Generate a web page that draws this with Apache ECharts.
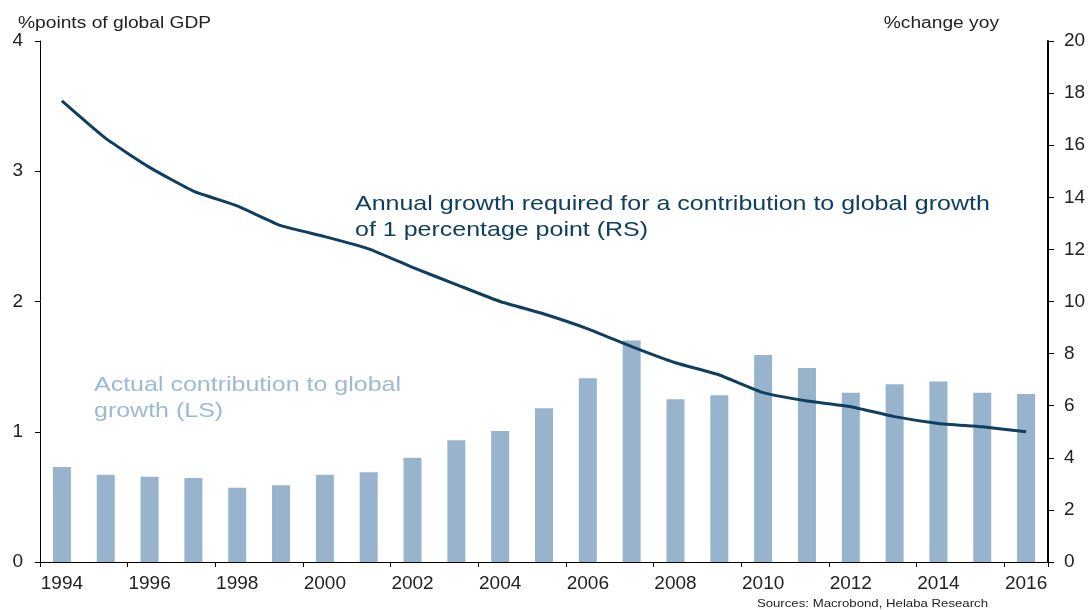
<!DOCTYPE html>
<html>
<head>
<meta charset="utf-8">
<script src="https://cdn.jsdelivr.net/npm/echarts@6/dist/echarts.min.js"></script>
<style>
html,body{margin:0;padding:0;background:#fff;}
#chart{width:1092px;height:610px;}
</style>
</head>
<body>
<div id="chart"></div>
<script>
var years = ['1994','1995','1996','1997','1998','1999','2000','2001','2002','2003','2004','2005','2006','2007','2008','2009','2010','2011','2012','2013','2014','2015','2016'];
var contribution = [0.73,0.67,0.655,0.645,0.57,0.59,0.67,0.69,0.80,0.935,1.005,1.18,1.41,1.70,1.25,1.28,1.59,1.49,1.30,1.365,1.385,1.30,1.29];
var requiredGrowth = [17.7,16.26,15.15,14.24,13.67,12.91,12.49,12.02,11.31,10.65,10.0,9.52,8.95,8.27,7.65,7.18,6.5,6.18,5.96,5.58,5.32,5.19,5.0];
var leftTicks = {min:0, max:4, interval:1};
var rightTicks = {min:0, max:20, interval:2};

var font = '"Liberation Sans", Arial, sans-serif';
var navy = '#0f3f60';
var barColor = '#97b4cc';
var chart = echarts.init(document.getElementById('chart'));
chart.setOption({
  animation: false,
  grid: {left: 40, right: 44, top: 41, bottom: 48, containLabel: false},
  xAxis: [{
    type: 'category',
    data: years,
    boundaryGap: true,
    axisLine: {lineStyle: {color: '#000', width: 1}},
    axisTick: {show: true, interval: 1, length: 5, inside: false, lineStyle: {color: '#000'}},
    axisLabel: {interval: 1, margin: 12, fontSize: 19, color: '#222', fontFamily: font},
    splitLine: {show: false}
  }, {
    type: 'category',
    data: years,
    position: 'top',
    axisLine: {show: true, lineStyle: {color: '#000', width: 1}},
    axisTick: {show: false},
    axisLabel: {show: false},
    splitLine: {show: false}
  }],
  yAxis: [{
    type: 'value',
    min: leftTicks.min, max: leftTicks.max, interval: leftTicks.interval,
    position: 'left',
    axisLine: {show: true, lineStyle: {color: '#000', width: 1}},
    axisTick: {show: true, length: 5, lineStyle: {color: '#000'}},
    axisLabel: {margin: 17, fontSize: 19, color: '#222', fontFamily: font},
    splitLine: {show: false}
  }, {
    type: 'value',
    min: rightTicks.min, max: rightTicks.max, interval: rightTicks.interval,
    position: 'right',
    axisLine: {show: true, lineStyle: {color: '#000', width: 2}},
    axisTick: {show: true, length: 6, lineStyle: {color: '#000'}},
    axisLabel: {margin: 16, fontSize: 19, color: '#222', fontFamily: font},
    splitLine: {show: false}
  }],
  series: [{
    type: 'bar',
    data: contribution,
    yAxisIndex: 0,
    barWidth: 18,
    itemStyle: {color: barColor}
  }, {
    type: 'line',
    data: requiredGrowth,
    yAxisIndex: 1,
    symbol: 'none',
    smooth: 0.15,
    lineStyle: {color: navy, width: 3}
  }],
  graphic: [
    {type: 'text', x: 18, y: 24, scaleX: 1.2, style: {text: '%points of global GDP', font: '16px ' + font, fill: '#222', textVerticalAlign: 'middle', verticalAlign: 'middle'}},
    {type: 'text', x: 999, y: 24, scaleX: 1.2, style: {text: '%change yoy', font: '16px ' + font, fill: '#222', textAlign: 'right', align: 'right', textVerticalAlign: 'middle', verticalAlign: 'middle'}},
    {type: 'text', x: 355, y: 191, scaleX: 1.19, style: {text: 'Annual growth required for a contribution to global growth\nof 1 percentage point (RS)', font: '21px ' + font, fill: navy, lineHeight: 26}},
    {type: 'text', x: 94, y: 372, scaleX: 1.19, style: {text: 'Actual contribution to global\ngrowth (LS)', font: '21px ' + font, fill: '#9dbad2', lineHeight: 26}},
    {type: 'text', x: 988, y: 604, scaleX: 1.2, style: {text: 'Sources: Macrobond, Helaba Research', font: '11px ' + font, fill: '#222', textAlign: 'right', align: 'right', textVerticalAlign: 'middle', verticalAlign: 'middle'}}
  ]
});
</script>
</body>
</html>
